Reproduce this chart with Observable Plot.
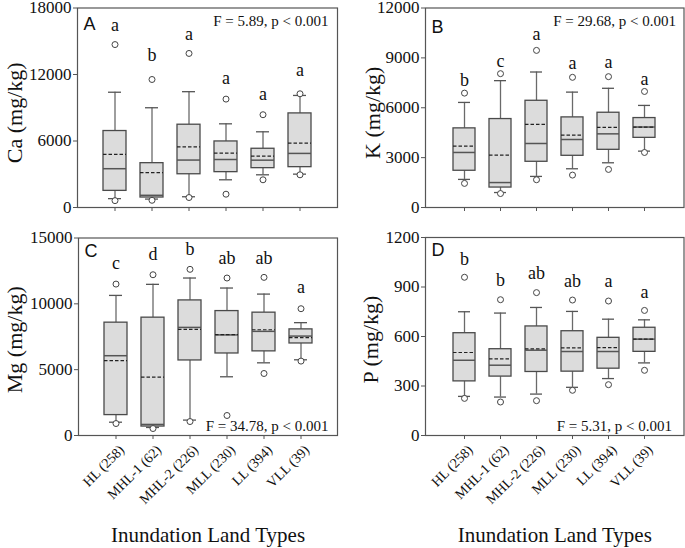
<!DOCTYPE html>
<html>
<head>
<meta charset="utf-8">
<script src="https://cdn.jsdelivr.net/npm/d3@7"></script>
<script src="https://cdn.jsdelivr.net/npm/@observablehq/plot@0.6"></script>
<style>
  html, body { margin: 0; padding: 0; background: #fff; }
  #chart { position: relative; width: 685px; height: 548px; overflow: hidden; }
  #chart svg { position: absolute; overflow: visible; }
</style>
</head>
<body>
<div id="chart"></div>
<script>
// Categories (inundation land types, with sample sizes)
const categories = ["HL (258)", "MHL-1 (62)", "MHL-2 (226)", "MLL (230)", "LL (394)", "VLL (39)"];

// Ca (mg/kg)
const caP5 = [620, 650, 900, 1200, 2500, 2950];
const caP10 = [800, 760, 970, 2500, 2950, 3010];
const caQ1 = [1500, 900, 3000, 3190, 3550, 3640];
const caMedian = [3500, 1100, 4280, 4330, 4270, 4880];
const caMean = [4800, 3150, 5470, 4900, 4630, 5800];
const caQ3 = [6900, 4000, 7470, 5960, 5300, 8490];
const caP90 = [10400, 9000, 10450, 7550, 6830, 10110];
const caP95 = [14700, 11550, 13900, 9780, 8370, 10260];
const caLetters = ["a", "b", "a", "a", "a", "a"];
const caLetterY = [16450, 13750, 15650, 11680, 10200, 12340];

// K (mg/kg)
const kP5 = [1450, 840, 1670, 1950, 2290, 3310];
const kP10 = [1690, 900, 1870, 2330, 2690, 3390];
const kQ1 = [2210, 1200, 2750, 3110, 3470, 4190];
const kMedian = [3310, 1500, 3850, 4090, 4430, 4840];
const kMean = [3690, 3150, 5000, 4350, 4820, 4840];
const kQ3 = [4760, 5320, 6420, 5420, 5700, 5380];
const kP90 = [6320, 7630, 8150, 6940, 7170, 6140];
const kP95 = [6880, 8050, 9450, 7830, 7870, 6980];
const kLetters = ["b", "c", "a", "a", "a", "a"];
const kLetterY = [7630, 8770, 10440, 8670, 8730, 7690];

// Mg (mg/kg)
const mgP5 = [910, 530, 1060, 1520, 4710, 5650];
const mgP10 = [1010, 610, 1170, 4460, 5520, 5750];
const mgQ1 = [1550, 680, 5700, 6230, 6390, 6990];
const mgMedian = [6060, 840, 8210, 7640, 7910, 7550];
const mgMean = [5680, 4440, 8060, 7660, 8030, 7430];
const mgQ3 = [8570, 8950, 10260, 9450, 9330, 8060];
const mgP90 = [10640, 11480, 11960, 11200, 10740, 8570];
const mgP95 = [11500, 12210, 12620, 11960, 12010, 9630];
const mgLetters = ["c", "d", "b", "ab", "ab", "a"];
const mgLetterY = [13050, 13760, 14110, 13480, 13480, 11230];

// P (mg/kg)
const pP5 = [225, 203, 211, 274, 308, 395];
const pP10 = [237, 233, 251, 292, 345, 440];
const pQ1 = [328, 357, 385, 387, 405, 507];
const pMedian = [456, 426, 517, 509, 509, 584];
const pMean = [503, 464, 525, 531, 533, 584];
const pQ3 = [620, 523, 661, 632, 592, 653];
const pP90 = [750, 742, 776, 752, 705, 701];
const pP95 = [959, 823, 866, 821, 815, 758];
const pLetters = ["b", "b", "ab", "ab", "a", "a"];
const pLetterY = [1068, 940, 985, 932, 932, 868];

// Axis ticks
const caTicks = [0, 6000, 12000, 18000];
const kTicks = [0, 3000, 6000, 9000, 12000];
const mgTicks = [0, 5000, 10000, 15000];
const pTicks = [0, 300, 600, 900, 1200];

const xTitle = "Inundation Land Types";

function rows(p5, p10, q1, med, mean, q3, p90, p95, letters, letterY) {
  return categories.map((c, i) => ({
    cat: c, p5: p5[i], p10: p10[i], q1: q1[i], median: med[i], mean: mean[i],
    q3: q3[i], p90: p90[i], p95: p95[i], letter: letters[i], letterY: letterY[i]
  }));
}

const SERIF = "Liberation Serif";
const SANS = "Liberation Sans";

function panel(cfg) {
  const data = cfg.data;
  const marks = [
    Plot.ruleX(data, {x: "cat", y1: "p10", y2: "q1", stroke: "#6a6a6a", strokeWidth: 1.3}),
    Plot.ruleX(data, {x: "cat", y1: "q3", y2: "p90", stroke: "#6a6a6a", strokeWidth: 1.3}),
    Plot.tickY(data, {x: "cat", y: "p10", stroke: "#555", strokeWidth: 1.3, insetLeft: 5, insetRight: 5}),
    Plot.tickY(data, {x: "cat", y: "p90", stroke: "#555", strokeWidth: 1.3, insetLeft: 5, insetRight: 5}),
    Plot.barY(data, {x: "cat", y1: "q1", y2: "q3", fill: "#dcdcdc", stroke: "#4a4a4a", strokeWidth: 1.3}),
    Plot.tickY(data, {x: "cat", y: "median", stroke: "#555", strokeWidth: 1.5}),
    Plot.tickY(data, {x: "cat", y: "mean", stroke: "#222", strokeWidth: 1.2, strokeDasharray: "3.5,2"}),
    Plot.dot(data, {x: "cat", y: "p5", r: 3, stroke: "#444", fill: "white", strokeWidth: 1}),
    Plot.dot(data, {x: "cat", y: "p95", r: 3, stroke: "#444", fill: "white", strokeWidth: 1}),
    Plot.text(data, {x: "cat", y: "letterY", text: "letter", fontSize: 18, fontFamily: SERIF, fill: "#111", textAnchor: "middle", lineAnchor: "middle"}),
    Plot.text([cfg.tag], {text: d => d, frameAnchor: "top-left", textAnchor: "start", lineAnchor: "top", dx: 6, dy: cfg.tagDy, fontSize: 18, fontFamily: SANS, fill: "#111"}),
    Plot.text([cfg.stat], {text: d => d, frameAnchor: cfg.statAnchor, textAnchor: "end", lineAnchor: "middle", dx: cfg.statDx, dy: cfg.statDy, fontSize: 15, fontFamily: SERIF, fill: "#111"}),
    Plot.text([cfg.ylabel], {text: d => d, frameAnchor: "left", textAnchor: "middle", lineAnchor: "middle", rotate: -90, dx: cfg.ylabelDx, dy: cfg.ylabelDy || 0, fontSize: 22, fontFamily: SERIF, fill: "#111"}),
    Plot.axisY({ticks: cfg.ticks, tickFormat: "d", tickSize: 4, tickPadding: 2, fontSize: 17, fontFamily: SERIF, label: null, stroke: "#555", color: "#111"}),
    Plot.axisX({tickSize: 4, tickFormat: () => "", label: null, stroke: "#555"}),
    Plot.frame({stroke: "#555", strokeWidth: 1.2})
  ];
  if (cfg.bottom) {
    // rotated category labels
    marks.push(Plot.text(categories, {x: d => d, text: d => d, frameAnchor: "bottom", rotate: -45, textAnchor: "end", lineAnchor: "middle", dx: 6, dy: 12, fontSize: 14, fontFamily: SERIF, fill: "#111"}));
    marks.push(Plot.text([xTitle], {text: d => d, frameAnchor: "bottom", textAnchor: "middle", lineAnchor: "middle", dy: 100, fontSize: 21, fontFamily: SERIF, fill: "#111"}));
  }
  const svg = Plot.plot({
    width: cfg.width,
    height: cfg.height,
    marginLeft: cfg.ml,
    marginRight: cfg.mr,
    marginTop: cfg.mt,
    marginBottom: cfg.mb,
    style: {fontFamily: SERIF, background: "transparent", overflow: "visible"},
    x: {type: "band", domain: categories, paddingInner: 0.38, paddingOuter: 0.69, axis: null},
    y: {domain: cfg.domain, axis: null},
    marks
  });
  svg.style.left = cfg.left + "px";
  svg.style.top = cfg.top + "px";
  return svg;
}

const chart = document.getElementById("chart");

chart.appendChild(panel({
  data: rows(caP5, caP10, caQ1, caMedian, caMean, caQ3, caP90, caP95, caLetters, caLetterY),
  left: 0, top: 0, width: 342, height: 215, ml: 77, mr: 5, mt: 7.5, mb: 8,
  domain: [0, 18000], ticks: caTicks, tag: "A", tagDy: 9,
  stat: "F = 5.89, p < 0.001", statAnchor: "top-right", statDx: -9, statDy: 13,
  ylabel: "Ca (mg/kg)", ylabelDx: -63, ylabelDy: 5, bottom: false
}));

chart.appendChild(panel({
  data: rows(kP5, kP10, kQ1, kMedian, kMean, kQ3, kP90, kP95, kLetters, kLetterY),
  left: 342, top: 0, width: 343, height: 215, ml: 83, mr: 1.5, mt: 7.5, mb: 8,
  domain: [0, 12000], ticks: kTicks, tag: "B", tagDy: 12,
  stat: "F = 29.68, p < 0.001", statAnchor: "top-right", statDx: -8, statDy: 13,
  ylabel: "K (mg/kg)", ylabelDx: -53, ylabelDy: 5, bottom: false
}));

chart.appendChild(panel({
  data: rows(mgP5, mgP10, mgQ1, mgMedian, mgMean, mgQ3, mgP90, mgP95, mgLetters, mgLetterY),
  left: 0, top: 215, width: 342, height: 333, ml: 78, mr: 5, mt: 22.5, mb: 113,
  domain: [0, 15000], ticks: mgTicks, tag: "C", tagDy: 6,
  stat: "F = 34.78, p < 0.001", statAnchor: "bottom-right", statDx: -9, statDy: -9,
  ylabel: "Mg (mg/kg)", ylabelDx: -64, ylabelDy: 3, bottom: true
}));

chart.appendChild(panel({
  data: rows(pP5, pP10, pQ1, pMedian, pMean, pQ3, pP90, pP95, pLetters, pLetterY),
  left: 342, top: 215, width: 343, height: 333, ml: 83, mr: 1.5, mt: 22, mb: 113,
  domain: [0, 1200], ticks: pTicks, tag: "D", tagDy: 6,
  stat: "F = 5.31, p < 0.001", statAnchor: "bottom-right", statDx: -12, statDy: -9,
  ylabel: "P (mg/kg)", ylabelDx: -55, ylabelDy: 3, bottom: true
}));
</script>
</body>
</html>
